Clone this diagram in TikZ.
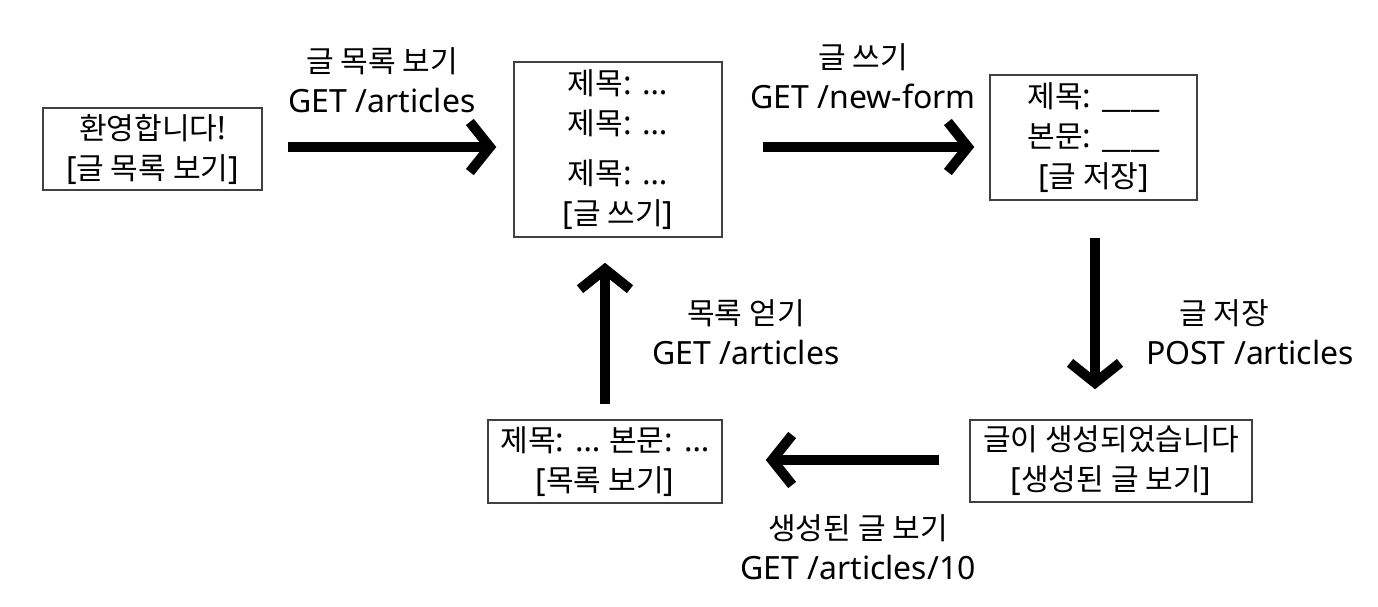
\documentclass[tikz,border=0pt]{standalone}
\usepackage{fontspec}
\setmainfont{Noto Sans}
\newfontfamily\kr[Scale=0.94]{Noto Sans CJK KR}
\usetikzlibrary{arrows.meta}
\begin{document}
\begin{tikzpicture}[x=1pt,y=-1pt,
  box/.style={draw=black!75, line width=1.5pt, align=center, inner sep=0pt, font=\fontsize{32}{40}\selectfont},
  lbl/.style={align=center, inner sep=0pt, font=\fontsize{32}{40}\selectfont},
  bigarrow/.style={line width=10pt, -{Straight Barb[length=20pt,width=50pt,line width=10pt]}}
]
\useasboundingbox[fill=white] (0,0) rectangle (1378,606);
\node[box, minimum width=219pt, minimum height=82pt] (b1) at (152.5,149) {{\kr 환영합니다}!\\{[{\kr 글 목록 보기}]}};
\node[box, minimum width=208pt, minimum height=175pt] (b2) at (618,149.5) {{\kr 제목}: …\\{\kr 제목}: …\\[10pt]{\kr 제목}: …\\{[{\kr 글 쓰기}]}};
\node[box, minimum width=207pt, minimum height=125pt] (b3) at (1093.5,137.5) {{\kr 제목}: \_\_\_\_\\{\kr 본문}: \_\_\_\_\\{[{\kr 글 저장}]}};
\node[box, minimum width=282pt, minimum height=82pt] (b4) at (1111,461) {{\kr 글이 생성되었습니다}\\{[{\kr 생성된 글 보기}]}};
\node[box, minimum width=234pt, minimum height=83pt] (b5) at (605,461.5) {{\kr 제목}: … {\kr 본문}: …\\{[{\kr 목록 보기}]}};

\coordinate (r1) at (0,147);
\coordinate (c3) at (1095,0);
\coordinate (r4) at (0,460);
\coordinate (c5) at (605,0);

\draw[bigarrow, shorten <=25pt, shorten >=17pt] (b1.east |- r1) -- (b2.west |- r1);
\draw[bigarrow, shorten <=40pt, shorten >=15pt] (b2.east |- r1) -- (b3.west |- r1);
\draw[bigarrow, shorten <=37pt, shorten >=30pt] (c3 |- b3.south) -- (c3 |- b4.north);
\draw[bigarrow, shorten <=30pt, shorten >=43pt] (b4.west |- r4) -- (b5.east |- r4);
\draw[bigarrow, shorten <=15pt, shorten >=25pt] (c5 |- b5.north) -- (c5 |- b2.south);

\node[lbl] (l1) at (382,80) {{\kr 글 목록 보기}\\GET /articles};
\node[lbl] (l2) at (863,76) {{\kr 글 쓰기}\\GET /new-form};
\node[lbl] (l3) at (1250,332) {\hspace*{-52pt}{\kr 글 저장}\\POST /articles};
\node[lbl] (l4) at (858,547) {{\kr 생성된 글 보기}\\GET /articles/10};
\node[lbl] (l5) at (746,332) {{\kr 목록 얻기}\\GET /articles};
\end{tikzpicture}
\end{document}
